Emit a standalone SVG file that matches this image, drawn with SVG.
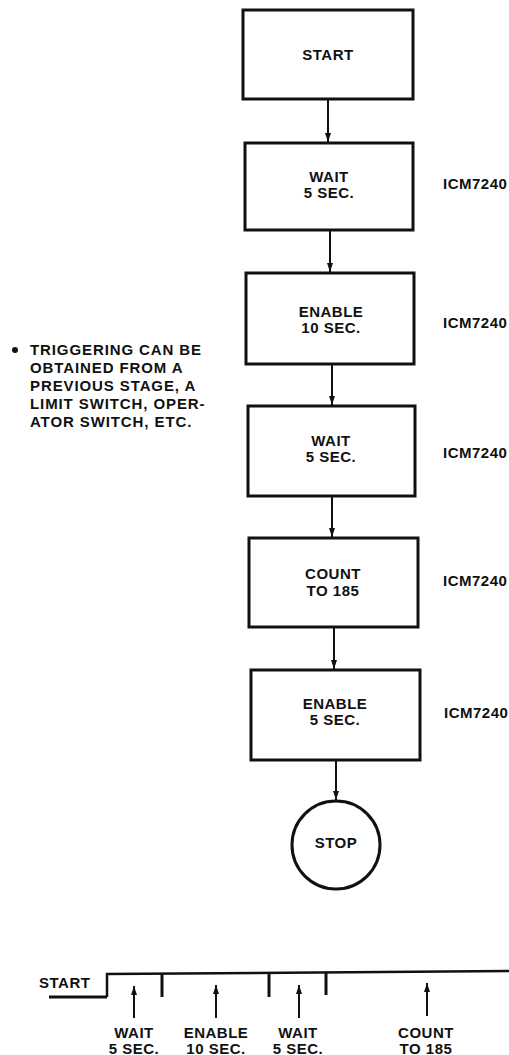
<svg xmlns="http://www.w3.org/2000/svg" width="509" height="1055" viewBox="0 0 509 1055">
<style>
text{font-family:"Liberation Sans",Arial,sans-serif;font-weight:bold;font-size:15px;fill:#111;letter-spacing:0.5px}
.c{text-anchor:middle}
.box{fill:#fff;stroke:#111;stroke-width:3}
.ln{stroke:#111;stroke-width:2;fill:none}
.sig{stroke:#111;stroke-width:2.5;fill:none}
.tick{stroke:#111;stroke-width:3;fill:none}
.note{letter-spacing:0.9px}
</style>
<defs>
<marker id="ah" markerUnits="userSpaceOnUse" markerWidth="10" markerHeight="7" refX="9" refY="3" orient="auto">
<path d="M0,0 L9,3 L0,6 Z" fill="#111"/>
</marker>
</defs>
<rect width="509" height="1055" fill="#fff"/>
<g id="connectors">
<line class="ln" x1="328" y1="99" x2="328" y2="142" marker-end="url(#ah)"/>
<line class="ln" x1="330" y1="230" x2="330" y2="272" marker-end="url(#ah)"/>
<line class="ln" x1="332" y1="364" x2="332" y2="405" marker-end="url(#ah)"/>
<line class="ln" x1="332" y1="496" x2="332" y2="537" marker-end="url(#ah)"/>
<line class="ln" x1="334" y1="627" x2="334" y2="669" marker-end="url(#ah)"/>
<line class="ln" x1="336" y1="760" x2="336" y2="800" marker-end="url(#ah)"/>
</g>
<g id="start">
<rect class="box" x="243" y="10" width="170" height="89"/>
<text class="c" x="328" y="60">START</text>
</g>
<g id="wait1">
<rect class="box" x="245" y="143" width="168" height="87"/>
<text class="c" x="329" y="182">WAIT</text>
<text class="c" x="329" y="198">5 SEC.</text>
</g>
<g id="enable1">
<rect class="box" x="246" y="273" width="168" height="91"/>
<text class="c" x="331" y="317">ENABLE</text>
<text class="c" x="331" y="333">10 SEC.</text>
</g>
<g id="wait2">
<rect class="box" x="248" y="406" width="167" height="90"/>
<text class="c" x="331" y="446">WAIT</text>
<text class="c" x="331" y="462">5 SEC.</text>
</g>
<g id="count">
<rect class="box" x="249" y="538" width="169" height="89"/>
<text class="c" x="333" y="579">COUNT</text>
<text class="c" x="333" y="596">TO 185</text>
</g>
<g id="enable2">
<rect class="box" x="251" y="670" width="169" height="90"/>
<text class="c" x="335" y="709">ENABLE</text>
<text class="c" x="335" y="725">5 SEC.</text>
</g>
<g id="stop">
<circle cx="336" cy="845" r="44" fill="#fff" stroke="#111" stroke-width="3"/>
<text class="c" x="336" y="848">STOP</text>
</g>
<g id="chip-labels">
<text x="443" y="189">ICM7240</text>
<text x="443" y="328">ICM7240</text>
<text x="443" y="458">ICM7240</text>
<text x="443" y="586">ICM7240</text>
<text x="444" y="718">ICM7240</text>
</g>
<g id="note">
<circle cx="15" cy="350" r="3" fill="#111"/>
<text class="note" x="30" y="355">TRIGGERING CAN BE</text>
<text class="note" x="30" y="373">OBTAINED FROM A</text>
<text class="note" x="30" y="391">PREVIOUS STAGE, A</text>
<text class="note" x="30" y="409">LIMIT SWITCH, OPER-</text>
<text class="note" x="30" y="427">ATOR SWITCH, ETC.</text>
</g>
<g id="timing">
<path class="tick" d="M49,997 L107,997"/>
<path class="sig" d="M107,997 L107,974 L509,971"/>
<path class="tick" d="M162,974 V997 M269,974 V997 M326,972 V995"/>
<line class="ln" x1="134" y1="1018" x2="134" y2="986" marker-end="url(#ah)"/>
<line class="ln" x1="216" y1="1018" x2="216" y2="985" marker-end="url(#ah)"/>
<line class="ln" x1="299" y1="1018" x2="299" y2="985" marker-end="url(#ah)"/>
<line class="ln" x1="427" y1="1016" x2="427" y2="983" marker-end="url(#ah)"/>
<text x="39" y="988">START</text>
<text class="c" x="134" y="1038">WAIT</text>
<text class="c" x="134" y="1054">5 SEC.</text>
<text class="c" x="216" y="1038">ENABLE</text>
<text class="c" x="216" y="1054">10 SEC.</text>
<text class="c" x="298" y="1038">WAIT</text>
<text class="c" x="298" y="1054">5 SEC.</text>
<text class="c" x="426" y="1038">COUNT</text>
<text class="c" x="426" y="1054">TO 185</text>
</g>
</svg>
